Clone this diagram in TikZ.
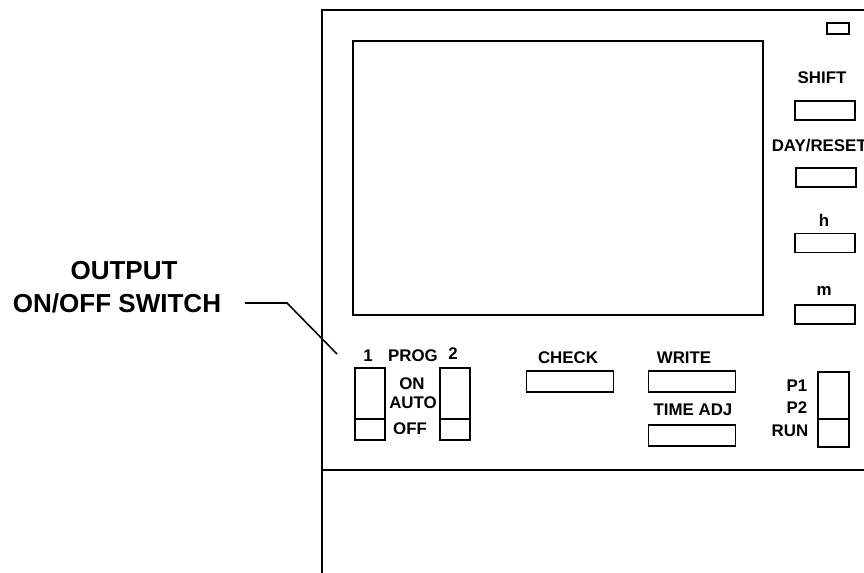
\documentclass[tikz,border=0pt]{standalone}
\usepackage{fontspec}
\setmainfont{Liberation Sans}
\usetikzlibrary{positioning}

\tikzset{
  lbl/.style={font=\bfseries\fontsize{12}{14}\selectfont, inner sep=0pt, anchor=base},
  biglbl/.style={font=\bfseries\fontsize{18.5}{22}\selectfont, inner sep=0pt, anchor=base},
  keybtn/.style={draw, inner sep=0pt, minimum width=1.5cm, minimum height=0.475cm},
  widebtn/.style={draw, inner sep=0pt, minimum width=2.175cm, minimum height=0.525cm},
  slide/.style={draw, inner sep=0pt, minimum width=0.75cm, minimum height=1.8cm}
}

\begin{document}
\begin{tikzpicture}[x=0.025cm, y=-0.025cm, line width=1.1pt]
    \useasboundingbox (0,0) rectangle (864,573);
    \clip (0,0) rectangle (864,573);

    % housing
    \draw (322,600) -- (322,10) -- (880,10);
    \draw (322,470) -- (880,470);

    % display and lamp
    \node[draw, inner sep=0pt, minimum width=10.25cm, minimum height=6.85cm] (screen) at (558,178) {};
    \node[draw, inner sep=0pt, minimum width=0.55cm, minimum height=0.275cm] (lamp) at (838,28.5) {};

    % right hand keys
    \node[lbl] (shiftlbl) at (822,83) {SHIFT};
    \node[keybtn] (shiftkey) at (825,110.5) {};
    \node[lbl, anchor=base west] (daylbl) at (771,151) {DAY/RESET};
    \node[keybtn] (daykey) at (826,177.5) {};
    \node[lbl] (hlbl) at (824,226) {h};
    \node[keybtn] (hkey) at (825,243) {};
    \node[lbl] (mlbl) at (824,295) {m};
    \node[keybtn] (mkey) at (825,314.5) {};

    % program switches
    \node[lbl] (onelbl) at (368,361) {1};
    \node[lbl] (proglbl) at (413,361) {PROG};
    \node[lbl] (twolbl) at (453,359) {2};
    \node[lbl] (onlbl) at (412,389) {ON};
    \node[lbl] (autolbl) at (413,408) {AUTO};
    \node[lbl] (offlbl) at (410,434) {OFF};
    \node[slide] (sw1) at (370,404) {};
    \node[slide] (sw2) at (455,404) {};
    \draw ([yshift=0.55cm]sw1.south west) -- ([yshift=0.55cm]sw1.south east);
    \draw ([yshift=0.55cm]sw2.south west) -- ([yshift=0.55cm]sw2.south east);

    % middle keys
    \node[lbl] (checklbl) at (568,363) {CHECK};
    \node[widebtn] (checkkey) at (570,381.5) {};
    \node[lbl] (writelbl) at (684,363) {WRITE};
    \node[widebtn] (writekey) at (692,381.5) {};
    \node[lbl] (adjlbl) at (693,415) {TIME ADJ};
    \node[widebtn] (adjkey) at (692,435.5) {};

    % run switch
    \node[lbl, anchor=base east] (p1lbl) at (808,391) {P1};
    \node[lbl, anchor=base east] (p2lbl) at (808,413) {P2};
    \node[lbl, anchor=base east] (runlbl) at (809,436) {RUN};
    \node[slide, minimum width=0.775cm, minimum height=1.875cm] (runsw) at (833.5,409.5) {};
    \draw ([yshift=0.725cm]runsw.south west) -- ([yshift=0.725cm]runsw.south east);

    % callout
    \node[biglbl] (outlbl) at (124,279) {OUTPUT};
    \node[biglbl] (swlbl) at (117,312) {ON/OFF SWITCH};
    \coordinate (bend) at (287,303);
    \coordinate (tip) at (337,354);
    \draw[shorten <=0.575cm] (swlbl.east |- bend) -- (bend) -- (tip);
\end{tikzpicture}
\end{document}
